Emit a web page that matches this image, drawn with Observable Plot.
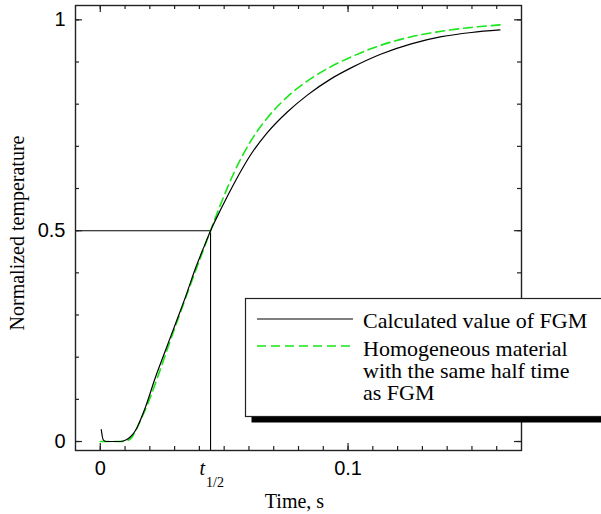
<!DOCTYPE html>
<html><head><meta charset="utf-8">
<script src="https://cdn.jsdelivr.net/npm/d3@7"></script>
<script src="https://cdn.jsdelivr.net/npm/@observablehq/plot@0.6"></script>
<style>body{margin:0;background:#fff} svg{display:block}</style>
</head><body><div id="chart"></div>
<script>
// Calculated value of FGM (black solid)
const fgmTime = [0.0004, 0.0012, 0.0025, 0.008, 0.0105, 0.0125, 0.0142, 0.0182, 0.0223, 0.0263, 0.0304, 0.0344, 0.0385, 0.0418, 0.0445, 0.0486, 0.054, 0.0607, 0.0675, 0.0756, 0.0837, 0.0931, 0.1012, 0.1134, 0.1255, 0.1377, 0.1498, 0.1613];
const fgmTemp = [0.028, 0.004, 0, 0, 0.004, 0.013, 0.026, 0.081, 0.153, 0.216, 0.28, 0.343, 0.412, 0.461, 0.5, 0.55, 0.612, 0.68, 0.733, 0.782, 0.822, 0.86, 0.886, 0.919, 0.943, 0.96, 0.970, 0.976];
// Homogeneous material with the same half time (green dashed)
const homTime = [0, 0.009, 0.0121, 0.0162, 0.0202, 0.0243, 0.0283, 0.0324, 0.0364, 0.0405, 0.0445, 0.0486, 0.054, 0.0607, 0.0675, 0.0756, 0.0864, 0.0931, 0.1012, 0.1134, 0.1255, 0.1377, 0.1498, 0.1613];
const homTemp = [0, 0, 0.006, 0.05, 0.105, 0.172, 0.24, 0.307, 0.372, 0.437, 0.5, 0.563, 0.638, 0.712, 0.768, 0.818, 0.866, 0.889, 0.912, 0.94, 0.96, 0.973, 0.982, 0.988];
// half time marker
const tHalf = 0.0445;
const halfTemp = 0.5;
// ticks
const xTicks = [0, 0.01, 0.02, 0.03, 0.04, 0.05, 0.06, 0.07, 0.08, 0.09, 0.1, 0.11, 0.12, 0.13, 0.14, 0.15, 0.16];
const xMajor = [0, 0.1];
const yTicks = [0, 0.1, 0.2, 0.3, 0.4, 0.5, 0.6, 0.7, 0.8, 0.9, 1];
const yMajor = [0, 0.5, 1];
const xDomain = [-0.01, 0.17];
const yDomain = [-0.0213, 1.034];
const legendLabels = ["Calculated value of FGM", ["Homogeneous material", "with the same half time", "as FGM"]];
const xTitle = "Time, s";
const yTitle = "Normalized temperature";

const W = 601, H = 514, mL = 75, mR = 80, mT = 5, mB = 64;
const innerH = H - mT - mB, innerW = W - mL - mR;
const serif = "'Liberation Serif', 'Times New Roman', Times, serif";
const sans = "'Liberation Sans', Arial, Helvetica, sans-serif";
const green = "#19e619";

const fgm = fgmTime.map((t, i) => ({t, v: fgmTemp[i]}));
const hom = homTime.map((t, i) => ({t, v: homTemp[i]}));

const chart = Plot.plot({
  width: W, height: H,
  marginLeft: mL, marginRight: mR, marginTop: mT, marginBottom: mB,
  style: {fontFamily: sans, background: "#fff", color: "#000"},
  x: {domain: xDomain, axis: null},
  y: {domain: yDomain, axis: null},
  marks: [
    Plot.ruleY([halfTemp], {x1: xDomain[0], x2: tHalf, stroke: "#000", strokeWidth: 1.1}),
    Plot.ruleX([tHalf], {y1: yDomain[0], y2: halfTemp, stroke: "#000", strokeWidth: 1.1}),
    Plot.line(hom, {x: "t", y: "v", stroke: green, strokeWidth: 1.6, strokeDasharray: "9,5", curve: "monotone-x"}),
    Plot.line(fgm, {x: "t", y: "v", stroke: "#000", strokeWidth: 1.2, curve: "monotone-x"}),
    // inward ticks, bottom & top
    Plot.ruleX(xTicks, {x: d => d, insetTop: innerH - 4, stroke: "#222", strokeWidth: 1.2}),
    Plot.ruleX(xMajor, {x: d => d, insetTop: innerH - 7, stroke: "#222", strokeWidth: 1.2}),
    Plot.ruleX(xTicks, {x: d => d, insetBottom: innerH - 4, stroke: "#222", strokeWidth: 1.2}),
    Plot.ruleX(xMajor, {x: d => d, insetBottom: innerH - 7, stroke: "#222", strokeWidth: 1.2}),
    // inward ticks, left & right
    Plot.ruleY(yTicks, {y: d => d, insetRight: innerW - 4, stroke: "#222", strokeWidth: 1.2}),
    Plot.ruleY(yMajor, {y: d => d, insetRight: innerW - 7, stroke: "#222", strokeWidth: 1.2}),
    Plot.ruleY(yTicks, {y: d => d, insetLeft: innerW - 4, stroke: "#222", strokeWidth: 1.2}),
    Plot.ruleY(yMajor, {y: d => d, insetLeft: innerW - 7, stroke: "#222", strokeWidth: 1.2}),
    Plot.frame({stroke: "#222", strokeWidth: 1.4}),
    Plot.axisX(xMajor, {tickSize: 0, tickPadding: 10, fontSize: 20, label: null, tickFormat: d => String(d)}),
    Plot.axisY(yMajor, {tickSize: 0, tickPadding: 10, fontSize: 20, label: null, tickFormat: d => String(d)}),
    Plot.text([xTitle], {text: d => d, frameAnchor: "bottom", textAnchor: "middle", dx: 294 - (mL + innerW / 2), dy: 57, fontFamily: serif, fontSize: 20, fill: "#000"}),
    Plot.text([yTitle], {text: d => d, frameAnchor: "left", textAnchor: "middle", rotate: -90, dx: -58, dy: 5, fontFamily: serif, fontSize: 20, fill: "#000"})
  ]
});

const svg = d3.select(chart);
const xs = chart.scale("x");
// t1/2 label
const tx = xs.apply(tHalf);
const tl = svg.append("text").attr("x", tx - 10.5).attr("y", 475).attr("text-anchor", "start")
  .attr("font-family", serif).attr("font-size", 20).attr("fill", "#000");
tl.append("tspan").attr("font-style", "italic").text("t");
tl.append("tspan").attr("font-size", 14).attr("dy", 12).attr("dx", 1).text("1/2");

// legend
const lg = svg.append("g").attr("text-anchor", "start");
lg.append("rect").attr("x", 251.5).attr("y", 416.5).attr("width", 360).attr("height", 6).attr("fill", "#000");
lg.append("rect").attr("x", 245.5).attr("y", 298.5).attr("width", 370).attr("height", 118)
  .attr("fill", "#fff").attr("stroke", "#222").attr("stroke-width", 1.2);
lg.append("line").attr("x1", 257).attr("x2", 353).attr("y1", 319).attr("y2", 319).attr("stroke", "#000").attr("stroke-width", 1.2);
lg.append("line").attr("x1", 257).attr("x2", 353).attr("y1", 346).attr("y2", 346).attr("stroke", green).attr("stroke-width", 1.6).attr("stroke-dasharray", "9,5");
lg.append("text").attr("x", 363).attr("y", 328).attr("text-anchor", "start").attr("font-family", serif).attr("font-size", 22).attr("fill", "#000").text(legendLabels[0]);
const t2 = lg.append("text").attr("x", 363).attr("y", 356).attr("text-anchor", "start").attr("font-family", serif).attr("font-size", 22).attr("fill", "#000");
legendLabels[1].forEach((s, i) => t2.append("tspan").attr("x", 363).attr("dy", i === 0 ? 0 : 22).text(s));

document.getElementById("chart").appendChild(chart);
</script>
</body></html>
